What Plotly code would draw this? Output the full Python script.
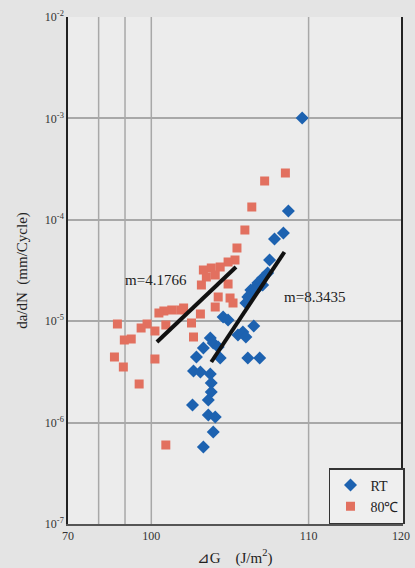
import numpy as np
import plotly.graph_objects as go

# ---- data (x in the chart's displayed horizontal coordinate, y = da/dN in mm/cycle) ----
def px2x(p):
    return 70 + (np.asarray(p, float) - 68) * 50.0 / 337.0

def py2y(p):
    return 10 ** (-2 - (np.asarray(p, float) - 17) / 101.4)

red_px = [288, 267, 254, 247, 239, 237, 230, 222, 213, 205, 208, 217, 203, 230, 232, 220, 235, 217,
          202, 182, 173, 165, 160, 167, 156, 148, 142, 118, 193, 195, 125, 132, 156, 115, 124, 140, 167, 185]
red_py = [173, 181, 207, 230, 248, 260, 262, 267, 268, 270, 277, 275, 285, 284, 298, 297, 303, 307,
          314, 310, 310, 311, 313, 325, 331, 324, 328, 324, 323, 337, 340, 339, 359, 357, 367, 384, 445, 308]

blue_px = [305, 291, 286, 277, 272, 270, 265, 260, 257, 253, 252, 250, 248, 225, 230, 256, 245, 240, 248,
           212, 215, 220, 205, 198, 222, 250, 262, 195, 202, 212, 213, 213, 210, 194, 210, 217, 215, 205, 265, 258]
blue_py = [118, 211, 233, 239, 260, 273, 278, 283, 288, 290, 295, 297, 303, 317, 320, 326, 332, 335, 337,
           338, 343, 347, 348, 357, 358, 358, 358, 371, 372, 374, 383, 392, 400, 405, 415, 417, 432, 447, 285, 290]

fit80_px = [158, 238]
fit80_py = [342, 267]
fitRT_px = [213, 287]
fitRT_py = [362, 252]

x_tick_labels = ["70", "100", "110", "120"]
x_tick_px = [68, 152.3, 311.5, 405]
x_grid_px = [99, 125.7, 152.3, 311.5]
y_tick_vals = [1e-7, 1e-6, 1e-5, 1e-4, 1e-3, 1e-2]
y_tick_text = ["10<sup>-7</sup>", "10<sup>-6</sup>", "10<sup>-5</sup>", "10<sup>-4</sup>", "10<sup>-3</sup>", "10<sup>-2</sup>"]

red_x, red_y = px2x(red_px), py2y(red_py)
blue_x, blue_y = px2x(blue_px), py2y(blue_py)

RED = "#e2705f"
BLUE = "#1d62b0"
SERIF = "Liberation Serif, Times New Roman, serif"

fig = go.Figure()

fig.add_trace(go.Scatter(x=blue_x, y=blue_y, mode="markers", name="RT",
                         marker=dict(symbol="diamond", size=10, color=BLUE, line=dict(width=0))))
fig.add_trace(go.Scatter(x=red_x, y=red_y, mode="markers", name="80\u2103",
                         marker=dict(symbol="square", size=9, color=RED, line=dict(width=0))))

# fit lines on top of points
fig.add_trace(go.Scatter(x=px2x(fit80_px), y=py2y(fit80_py), mode="lines",
                         line=dict(color="#111111", width=4), showlegend=False, hoverinfo="skip"))
fig.add_trace(go.Scatter(x=px2x(fitRT_px), y=py2y(fitRT_py), mode="lines",
                         line=dict(color="#111111", width=4), showlegend=False, hoverinfo="skip"))

# vertical grid lines
for g in px2x(x_grid_px):
    fig.add_shape(type="line", xref="x", yref="paper", x0=g, x1=g, y0=0, y1=1,
                  line=dict(color="#a8a8a8", width=1.5), layer="below")

fig.add_annotation(x=float(px2x(157)), y=float(np.log10(py2y(280))), text="m=4.1766", showarrow=False,
                   font=dict(family=SERIF, size=15, color="#222222"))
fig.add_annotation(x=float(px2x(317)), y=float(np.log10(py2y(297))), text="m=8.3435", showarrow=False,
                   font=dict(family=SERIF, size=15, color="#222222"))

fig.update_layout(
    width=415, height=568,
    margin=dict(l=68, r=10, t=17, b=44),
    paper_bgcolor="#e4e4e4",
    plot_bgcolor="#ececec",
    font=dict(family=SERIF, color="#222222"),
    legend=dict(x=1.012, y=0, xanchor="right", yanchor="bottom",
                bgcolor="#efefef", bordercolor="#333333", borderwidth=1.5,
                font=dict(family=SERIF, size=14, color="#222222"),
                itemwidth=30, tracegroupgap=0),
    xaxis=dict(range=[70, 120], tickmode="array", tickvals=list(px2x(x_tick_px)), ticktext=x_tick_labels,
               showgrid=False, zeroline=False, showline=True, linecolor="#555555", linewidth=1.5,
               ticks="", automargin=False, tickfont=dict(family=SERIF, size=12, color="#333333"),
               title=dict(text="\u22bfG&nbsp;&nbsp;&nbsp;&nbsp;(J/m<sup>2</sup>)", font=dict(family=SERIF, size=15), standoff=10)),
    yaxis=dict(type="log", range=[-7, -2], tickmode="array", tickvals=y_tick_vals, ticktext=y_tick_text,
               showgrid=True, gridcolor="#a8a8a8", gridwidth=1.5, zeroline=False,
               showline=True, linecolor="#222222", linewidth=1.5, mirror=True,
               ticks="", automargin=False, tickfont=dict(family=SERIF, size=12, color="#333333"),
               title=dict(text="da/dN&nbsp;&nbsp;(mm/Cycle)", font=dict(family=SERIF, size=15), standoff=14)),
)

fig.write_html("out.html")
